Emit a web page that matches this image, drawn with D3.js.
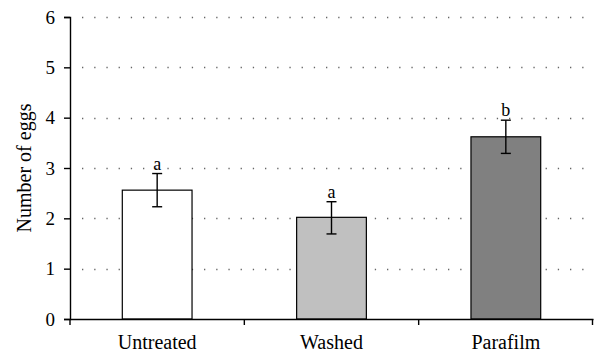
<!DOCTYPE html>
<html><head><meta charset="utf-8">
<script src="https://cdn.jsdelivr.net/npm/d3@7"></script>
<style>body{margin:0;background:#fff}svg{display:block}</style>
</head><body><svg id="c" width="594" height="353"></svg>
<script>
const categories = ["Untreated", "Washed", "Parafilm"];
const means = [2.56, 2.02, 3.62];
const errLow = [2.23, 1.69, 3.29];
const errHigh = [2.89, 2.33, 3.95];
const letters = ["a", "a", "b"];
const fills = ["#ffffff", "#c0c0c0", "#808080"];
const yTicks = [0, 1, 2, 3, 4, 5, 6];

const svg = d3.select("#c");
const m = {l: 70, r: 1, t: 17, b: 34};
const W = 594, H = 353;
const x = d3.scaleBand().domain(categories).range([m.l, W - m.r]).paddingInner(0.6).paddingOuter(0.3);
const y = d3.scaleLinear().domain([0, 6]).range([H - m.b, m.t]);
const font = "'Liberation Serif', 'Times New Roman', serif";

// grid
svg.append("g").selectAll("line").data(yTicks.slice(1)).join("line")
  .attr("x1", m.l + 12).attr("x2", W - m.r)
  .attr("y1", d => Math.round(y(d)) + 0.5).attr("y2", d => Math.round(y(d)) + 0.5)
  .attr("stroke", "#666").attr("stroke-width", 1.3).attr("stroke-dasharray", "1.3,10.9");

// bars
svg.append("g").selectAll("rect").data(categories).join("rect")
  .attr("x", d => x(d)).attr("width", x.bandwidth())
  .attr("y", (d, i) => y(means[i])).attr("height", (d, i) => y(0) - y(means[i]))
  .attr("fill", (d, i) => fills[i]).attr("stroke", "#000").attr("stroke-width", 1.2);

// error bars
const eg = svg.append("g").attr("stroke", "#000").attr("stroke-width", 1.4);
categories.forEach((c, i) => {
  const cx = x(c) + x.bandwidth() / 2;
  eg.append("line").attr("x1", cx).attr("x2", cx).attr("y1", y(errLow[i])).attr("y2", y(errHigh[i]));
  eg.append("line").attr("x1", cx - 5).attr("x2", cx + 5).attr("y1", y(errLow[i])).attr("y2", y(errLow[i]));
  eg.append("line").attr("x1", cx - 5).attr("x2", cx + 5).attr("y1", y(errHigh[i])).attr("y2", y(errHigh[i]));
  svg.append("text").attr("x", cx).attr("y", y(errHigh[i]) - 4).attr("text-anchor", "middle")
    .attr("font-family", font).attr("font-size", 18).text(letters[i]);
});

// y axis
const ya = svg.append("g").attr("transform", `translate(${m.l},0)`)
  .call(d3.axisLeft(y).tickValues(yTicks).tickSize(6).tickPadding(9).tickFormat(d3.format("d")));
ya.select(".domain").attr("stroke-width", 1.4);
ya.selectAll("line").attr("stroke-width", 1.4);
ya.selectAll("text").attr("font-family", font).attr("font-size", 19).attr("fill", "#000");

// x axis
const xa = svg.append("g").attr("transform", `translate(0,${y(0)})`)
  .call(d3.axisBottom(x).tickSize(0).tickPadding(16));
xa.select(".domain").attr("stroke-width", 1.4);
xa.selectAll("text").attr("font-family", font).attr("font-size", 20).attr("fill", "#000");
const step = x.step();
const bounds = [m.l, ...categories.slice(1).map(c => x(c) - (step - x.bandwidth()) / 2), W - m.r - 0.5];
xa.selectAll(".bt").data(bounds).join("line").attr("class", "bt")
  .attr("x1", d => d).attr("x2", d => d).attr("y1", 0).attr("y2", 6)
  .attr("stroke", "#000").attr("stroke-width", 1.4);

// y title
svg.append("text").attr("transform", `translate(31,${(m.t + H - m.b) / 2}) rotate(-90)`)
  .attr("text-anchor", "middle").attr("font-family", font).attr("font-size", 20).text("Number of eggs");
</script></body></html>
